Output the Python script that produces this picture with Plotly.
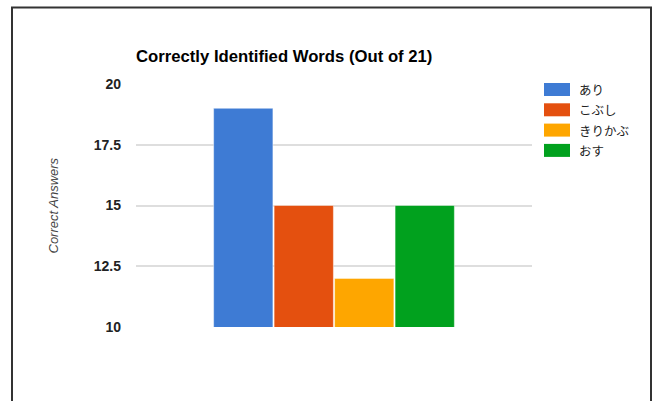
import plotly.graph_objects as go

# ---- data ----
category = [""]
series_names = ["あり", "こぶし", "きりかぶ", "おす"]
series_values = [19, 15, 12, 15]
series_colors = ["#3e7bd4", "#e4500f", "#fea600", "#01a11e"]
y_ticks = [10, 12.5, 15, 17.5, 20]
y_tick_labels = ["10", "12.5", "15", "17.5", "20"]

W, H = 654, 401
L, R, T, B = 136, 122, 84, 74
PW, PH = W - L - R, H - T - B


def px_x(px):
    return (px - L) / PW


def px_y(py):
    return (H - B - py) / PH


fig = go.Figure()
for name, val, col in zip(series_names, series_values, series_colors):
    fig.add_trace(go.Bar(
        x=category, y=[val], name=name,
        marker=dict(color=col, line=dict(color="rgba(255,255,255,0.45)", width=1)),
        showlegend=False,
    ))

shapes = []
annotations = []
# custom legend
for i, (name, col) in enumerate(zip(series_names, series_colors)):
    cy = 89.5 + 20.3 * i
    shapes.append(dict(type="rect", xref="paper", yref="paper",
                       x0=px_x(544), x1=px_x(570), y0=px_y(cy + 6.5), y1=px_y(cy - 6.5),
                       fillcolor=col, line=dict(width=0)))
    annotations.append(dict(text=name, xref="paper", yref="paper",
                            x=px_x(577), y=px_y(cy), xanchor="left", yanchor="middle",
                            showarrow=False,
                            font=dict(family="Noto Sans CJK JP", size=12.5, color="#222222")))

# y-axis title
annotations.append(dict(text="<i>Correct Answers</i>", xref="paper", yref="paper",
                        x=px_x(53), y=0.5, xanchor="center", yanchor="middle",
                        textangle=-90, showarrow=False,
                        font=dict(family="Liberation Sans, Arial", size=13, color="#444444")))

# outer frame (top, left, right)
shapes.append(dict(type="path", xref="paper", yref="paper",
                   path=f"M {px_x(12)},{px_y(410)} L {px_x(12)},{px_y(7.5)} L {px_x(651)},{px_y(7.5)} L {px_x(651)},{px_y(410)}",
                   line=dict(color="#333333", width=2)))

fig.update_layout(
    width=W, height=H,
    margin=dict(l=L, r=R, t=T, b=B),
    paper_bgcolor="white", plot_bgcolor="white",
    title=dict(text="Correctly Identified Words (Out of 21)",
               x=L / W, xanchor="left", xref="container",
               y=1 - 56 / H, yanchor="middle", yref="container",
               font=dict(family="Liberation Sans, Arial", size=16.7, color="#000000", weight="bold")),
    barmode="group", bargap=0.389, bargroupgap=0.02,
    shapes=shapes, annotations=annotations,
    showlegend=False,
    xaxis=dict(showticklabels=False, showgrid=False, zeroline=False, showline=False, fixedrange=True),
    yaxis=dict(range=[10, 20], tickvals=y_ticks, ticktext=y_tick_labels,
               showgrid=True, gridcolor="#dedede", gridwidth=1.5, zeroline=False, showline=False,
               ticks="", ticklabelstandoff=14,
               tickfont=dict(family="Liberation Sans, Arial", size=14, color="#222222", weight="bold")),
)

fig.write_html("out.html")
